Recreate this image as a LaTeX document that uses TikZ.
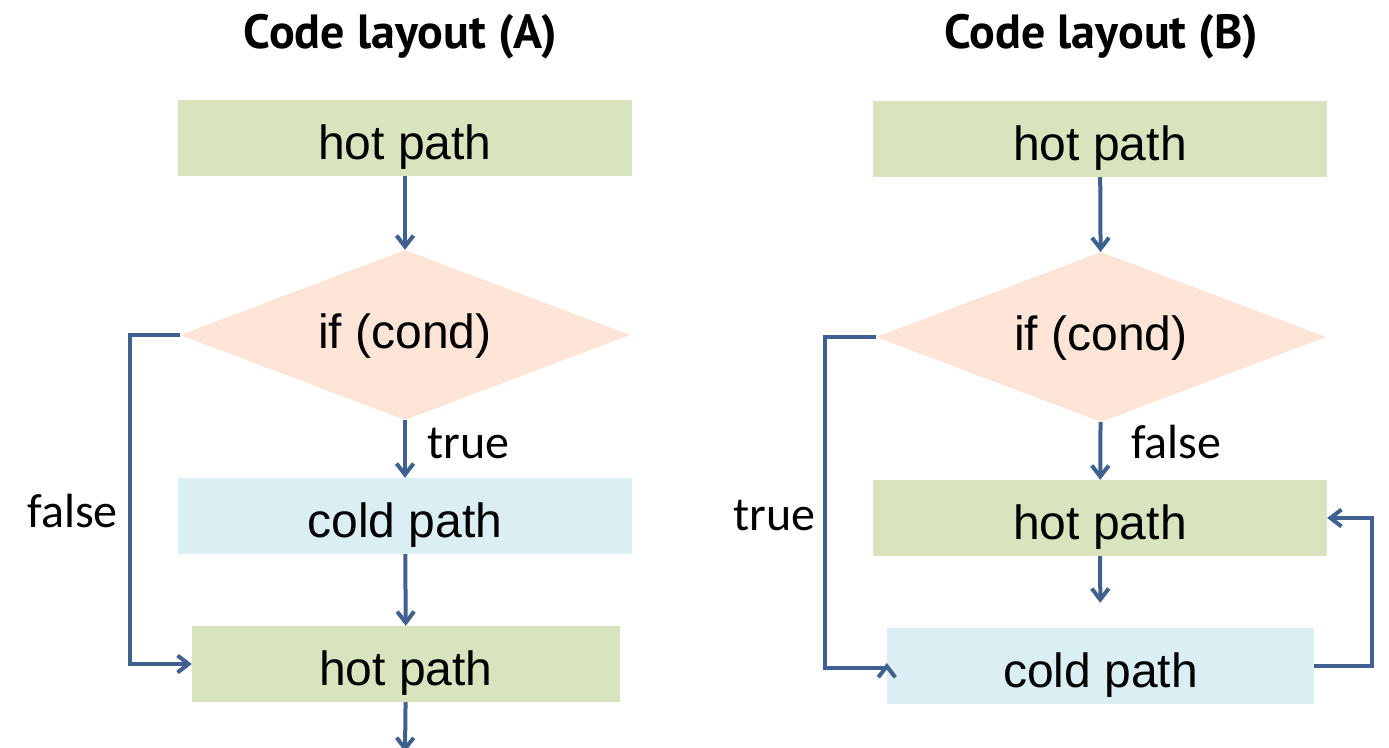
\documentclass[tikz,border=0pt]{standalone}
\usepackage{fontspec}
\setmainfont{Liberation Sans}
\newfontfamily\headfont{PT Sans}
\newfontfamily\labelfont{Carlito}
\usepackage{tikz}
\usetikzlibrary{shapes.geometric, arrows.meta}
\definecolor{hotgreen}{HTML}{D7E4BD}
\definecolor{condpeach}{HTML}{FCE4D6}
\definecolor{coldblue}{HTML}{DAEEF3}
\definecolor{flowblue}{HTML}{3F6190}
\tikzset{
    box/.style={rectangle, minimum height=76pt, inner sep=0pt, text height=42pt, text depth=0pt, font=\fontsize{48}{56}\selectfont},
    hot/.style={box, fill=hotgreen},
    cold/.style={box, fill=coldblue},
    cond/.style={diamond, aspect=2.65, fill=condpeach, minimum width=450pt, minimum height=170pt, inner sep=0pt, text height=27pt, text depth=0pt, font=\fontsize{48}{56}\selectfont},
    lbl/.style={inner sep=0pt, font=\labelfont\fontsize{48}{56}\selectfont},
    heading/.style={inner sep=0pt, font=\headfont\bfseries\fontsize{48}{56}\selectfont},
    flow/.style={draw=flowblue, line width=4pt, -{Straight Barb[length=11pt, width=17pt]}}
}

\begin{document}
\begin{tikzpicture}[x=1pt, y=-1pt]
\useasboundingbox (0,0) rectangle (1389,747);

% layout A: cold path sits in the fall-through
\node[heading, anchor=base] (titleA) at (400.5,48) {Code layout (A)};
\node[hot, minimum width=454pt] (hotA1) at (405,138) {hot path};
\node[cond] (condA) at (405,335) {if (cond)};
\node[cold, minimum width=454pt] (coldA) at (405,516) {cold path};
\node[hot, minimum width=428pt] (hotA2) at (406,664) {hot path};
\coordinate (outA) at (405,752);
\node[lbl, anchor=base west] (trueA) at (427,458) {true};
\node[lbl, anchor=base east] (falseA) at (118,527) {false};
\draw[flow] (hotA1) -- (condA);
\draw[flow] (condA) -- (coldA);
\draw[flow] (coldA) -- (hotA2);
\draw[flow] (hotA2) -- (outA);
\draw[flow] (condA.west) -- ++(-50,0) |- (hotA2.west);

% layout B: hot path falls through, cold path moved out
\node[heading, anchor=base] (titleB) at (1101.5,48) {Code layout (B)};
\node[hot, minimum width=454pt] (hotB1) at (1100,139) {hot path};
\node[cond] (condB) at (1101,337) {if (cond)};
\node[hot, minimum width=454pt] (hotB2) at (1100,518) {hot path};
\node[cold, minimum width=427pt] (coldB) at (1100.5,666) {cold path};
\node[lbl, anchor=base west] (falseB) at (1131,458) {false};
\node[lbl, anchor=base east] (trueB) at (816,530) {true};
\draw[flow] (hotB1) -- (condB);
\draw[flow] (condB) -- (hotB2);
\draw[flow, shorten >=25pt] (hotB2) -- (coldB);
\draw[flow] (condB.west) -- ++(-51,0) |- ([yshift=-2pt]coldB.west) -- ++(0,-5);
\draw[flow] (coldB.east) -- ++(58,0) |- (hotB2.east);
\end{tikzpicture}
\end{document}
